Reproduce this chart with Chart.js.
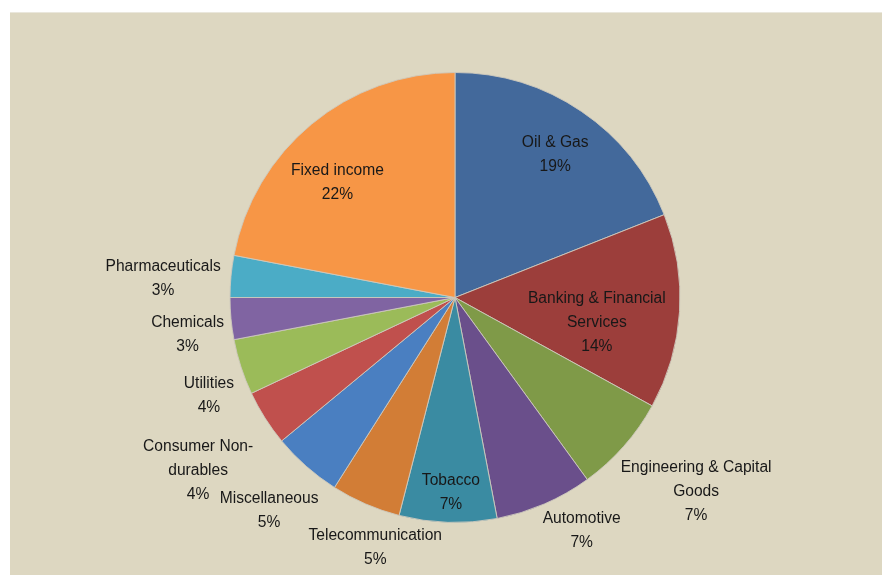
<!DOCTYPE html>
<html>
<head>
<meta charset="utf-8">
<script src="https://cdn.jsdelivr.net/npm/chart.js@4"></script>
<style>
  html, body { margin: 0; padding: 0; background: #ffffff; }
  #panel {
    position: absolute; left: 10px; top: 12px;
    width: 872px; height: 563px;
    background: #ddd7c1;
    border-top: 1px solid #eae7dc;
    box-sizing: border-box;
  }
  #pie { display: block; }
</style>
</head>
<body>
<div id="panel"><canvas id="pie" width="872" height="562"></canvas></div>
<script>
// sectors, clockwise from 12 o'clock
const sectors = [
  'Oil & Gas',
  ['Banking & Financial', 'Services'],
  ['Engineering & Capital', 'Goods'],
  'Automotive',
  'Tobacco',
  'Telecommunication',
  'Miscellaneous',
  ['Consumer Non-', 'durables'],
  'Utilities',
  'Chemicals',
  'Pharmaceuticals',
  'Fixed income'
];
const shares = [19, 14, 7, 7, 7, 5, 5, 4, 4, 3, 3, 22];
const sliceColors = [
  '#43699b', '#9c3e3b', '#7f9a48', '#6a4f8b', '#3a8ba2', '#d27d36',
  '#4a7fc1', '#c0504d', '#9bbb59', '#8064a2', '#4bacc6', '#f79646'
];

// where each label sits: distance as a fraction of the radius, and a small
// angular nudge (degrees) off the slice's middle
const labelRadius = [0.776, 0.64, 1.375, 1.18, 0.867, 1.166, 1.257, 1.377, 1.177, 1.20, 1.30, 0.73];
const labelNudge  = [0.8, 6.4, -2.6, -5.1, -0.6, -5.7, -0.3, -1.6, -3.7, -2.5, -1.7, -6.1];

const sliceLabels = {
  id: 'sliceLabels',
  afterDatasetsDraw(chart) {
    const ctx = chart.ctx;
    const arcs = chart.getDatasetMeta(0).data;
    ctx.save();
    ctx.font = '15.6px "Liberation Sans", Arial, sans-serif';
    ctx.fillStyle = '#181818';
    ctx.textAlign = 'center';
    ctx.textBaseline = 'middle';
    const lineH = 24;
    arcs.forEach((arc, i) => {
      const p = arc.getProps(['x', 'y', 'startAngle', 'endAngle', 'outerRadius'], true);
      const a = (p.startAngle + p.endAngle) / 2 + labelNudge[i] * Math.PI / 180;
      const r = p.outerRadius * labelRadius[i];
      const cx = p.x + Math.cos(a) * r;
      const cy = p.y + Math.sin(a) * r;
      const name = sectors[i];
      const lines = (Array.isArray(name) ? name : [name]).concat([shares[i] + '%']);
      const top = cy - (lines.length - 1) * lineH / 2;
      lines.forEach((ln, k) => ctx.fillText(ln, cx, top + k * lineH));
    });
    ctx.restore();
  }
};

new Chart(document.getElementById('pie'), {
  type: 'pie',
  data: {
    labels: sectors,
    datasets: [{
      data: shares,
      backgroundColor: sliceColors,
      borderColor: 'rgba(205,201,188,0.9)',
      borderWidth: 1
    }]
  },
  options: {
    responsive: false,
    animation: false,
    layout: { padding: { left: 219, right: 201, top: 59, bottom: 52 } },
    plugins: {
      legend: { display: false },
      tooltip: { enabled: false }
    }
  },
  plugins: [sliceLabels]
});
</script>
</body>
</html>
